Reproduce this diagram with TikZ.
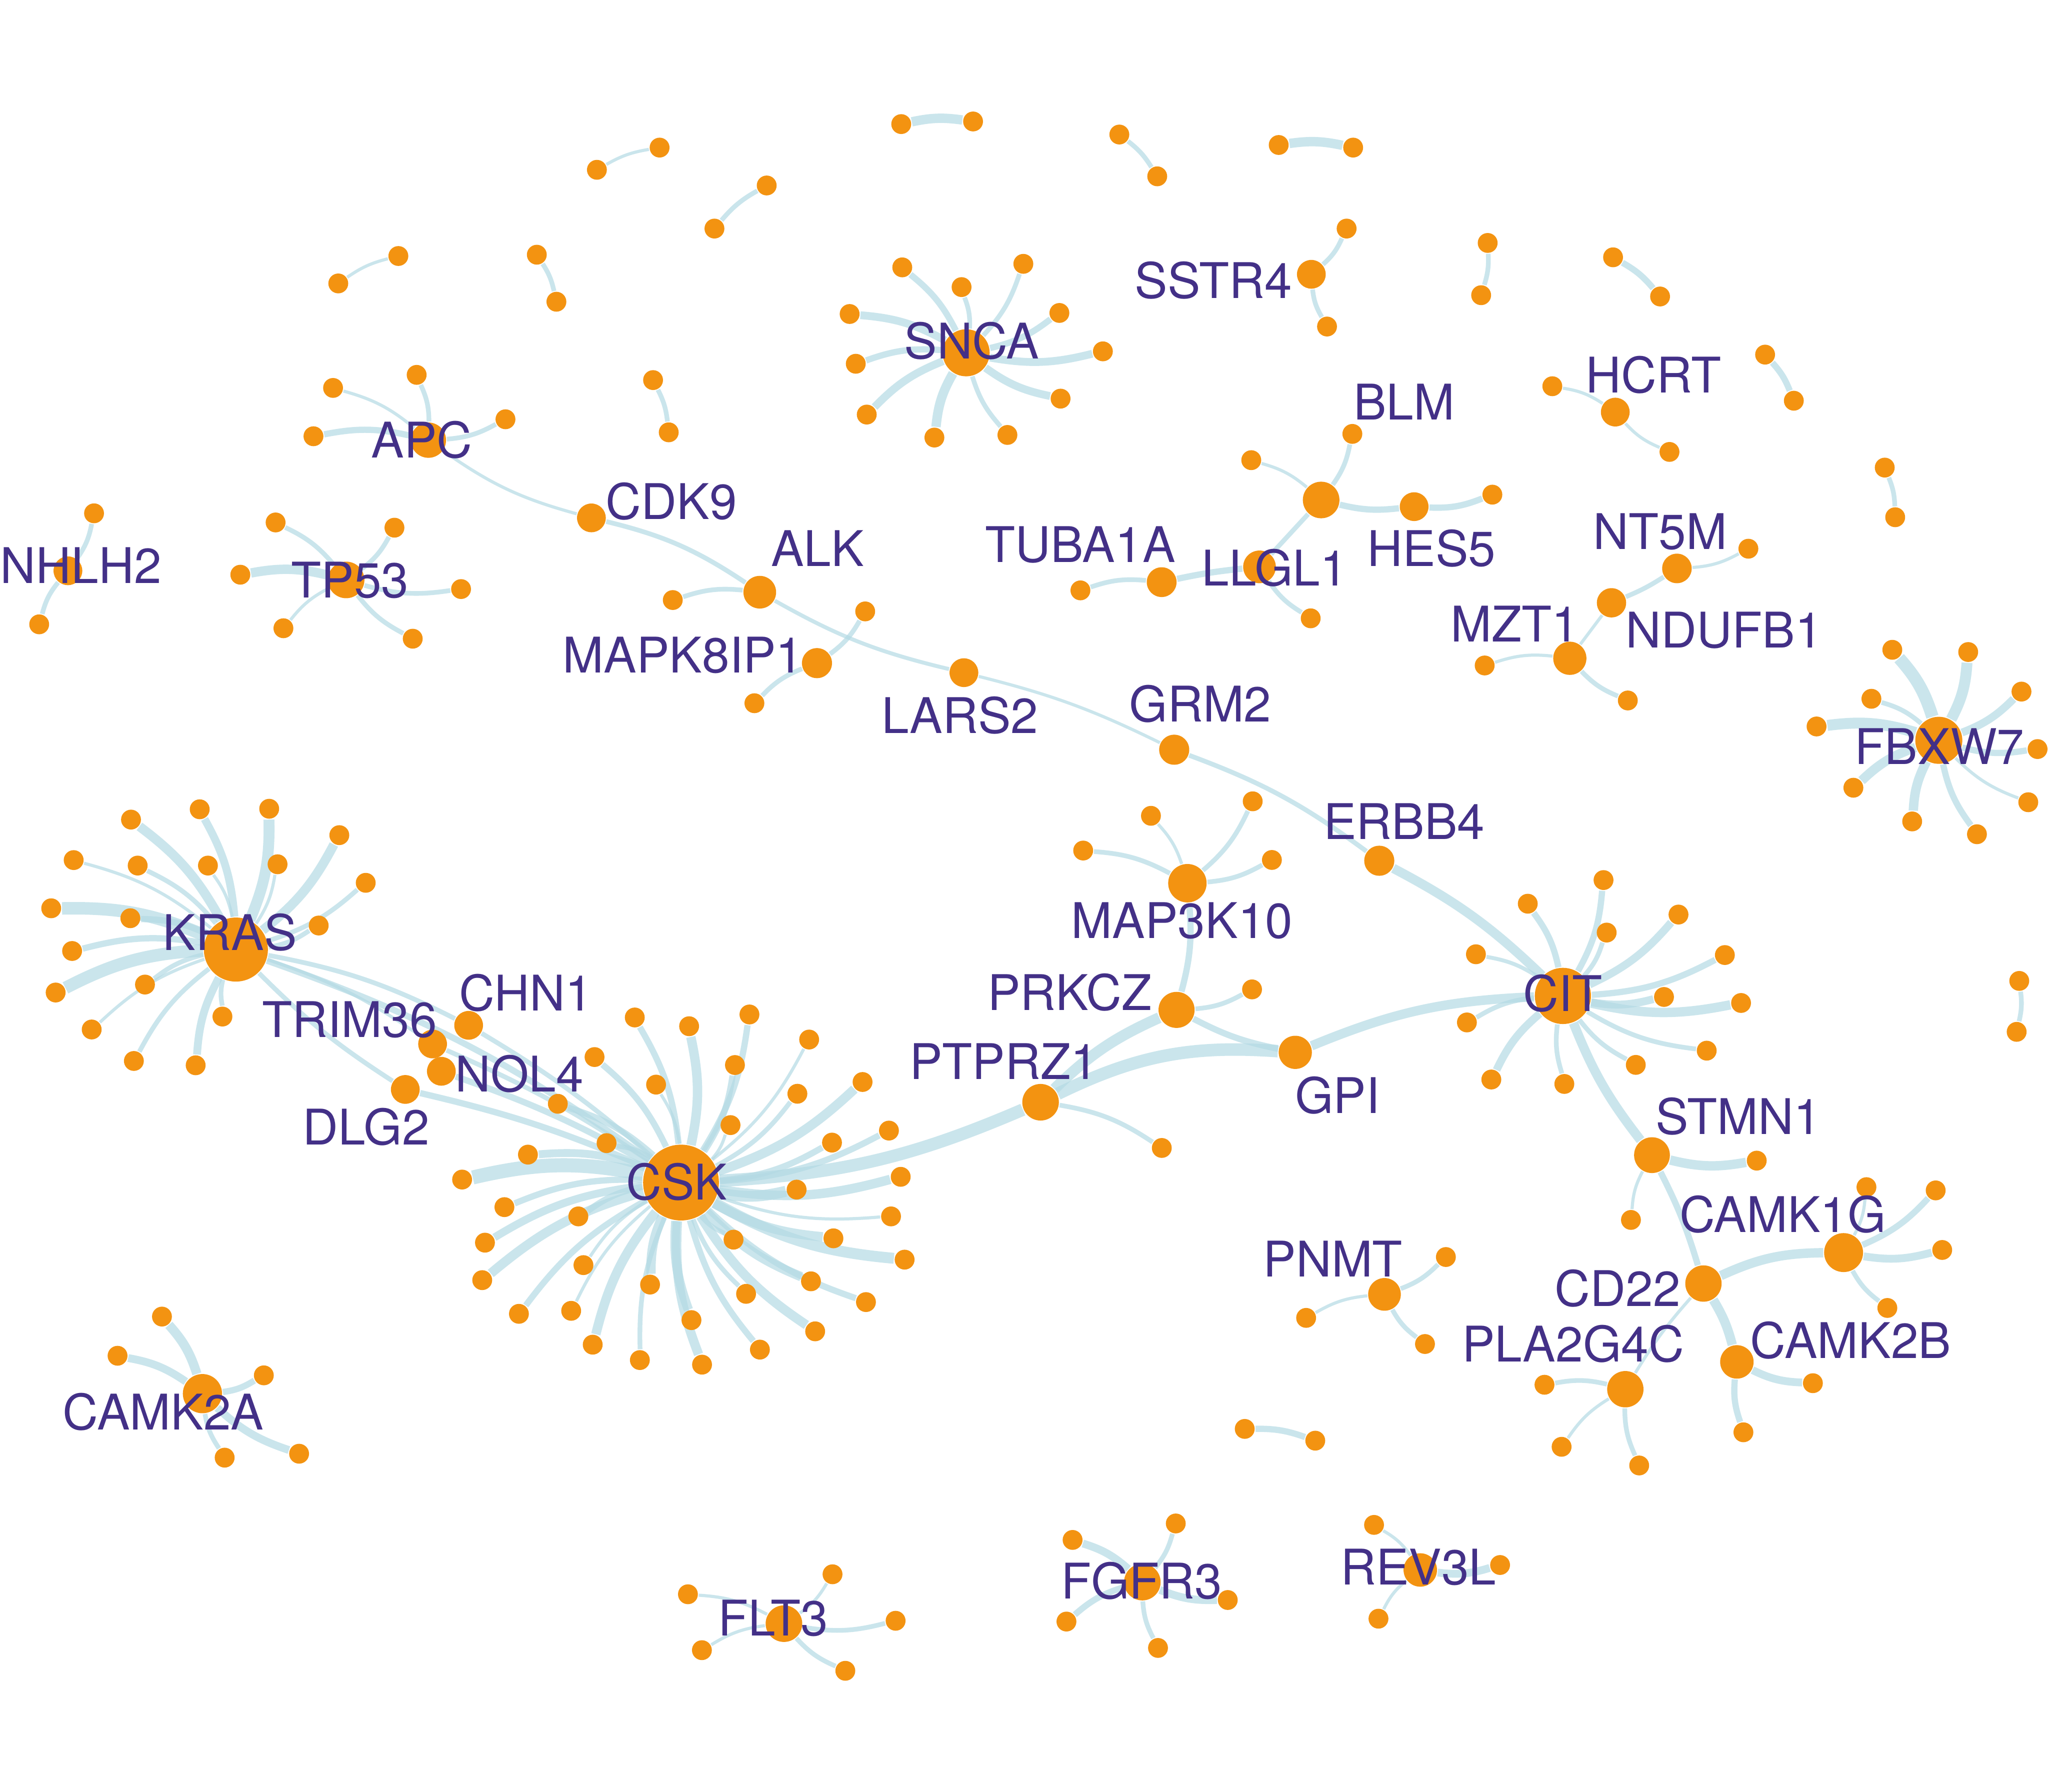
\documentclass[tikz,border=0pt]{standalone}
\usepackage{fontspec}
\setmainfont{TeX Gyre Heros}
\usetikzlibrary{calc}
\pgfdeclarelayer{back}
\pgfdeclarelayer{bg}
\pgfsetlayers{back,bg,main}
\definecolor{nodeor}{RGB}{243,147,17}
\definecolor{edgeblue}{RGB}{180,218,228}
\definecolor{labcol}{RGB}{67,48,135}
\newcommand\lblfont{\fontsize{10.7pt}{12pt}\selectfont}
\newcommand\myleaves[3]{%
  \foreach \x/\y/\w [count=\i] in {#3} {
    \node[leaf] (#1-\i) at (\x,\y) {};
    \begin{pgfonlayer}{bg}\draw[lnk=\w] (#1) to[bend right=#2] (#1-\i);\end{pgfonlayer}
  }}
\tikzset{
  nd/.style={circle, fill=nodeor, draw=none, inner sep=0pt, minimum size=#1*0.5691pt},
  leaf/.style={nd=7.6},
  lnk/.style={draw=edgeblue, draw opacity=0.7, line width=#1*0.34pt},
  lbl/.style={text=labcol, font=\lblfont, inner sep=0pt, text height=7.68pt, text depth=0pt}
}
\begin{document}
\begin{tikzpicture}[x=0.01cm, y=-0.01cm]
\useasboundingbox (0,0) rectangle (1568,1372);
\begin{pgfonlayer}{back}
\fill[white] (0,0) rectangle (1568,1372);
\end{pgfonlayer}
% hubs
\node[nd=29] (csk) at (521.4,905.4) {};
\node[nd=24.5] (kras) at (180.6,727) {};
\node[nd=21.5] (cit) at (1196.6,762.5) {};
\node[nd=18] (snca) at (739.7,270.1) {};
\node[nd=18] (fbxw7) at (1484.4,566.8) {};
\node[nd=14] (tp53) at (265,444) {};
\node[nd=13.5] (apc) at (328,337) {};
\node[nd=11] (nhlh2) at (52,437) {};
\node[nd=15] (camk2a) at (155,1067) {};
\node[nd=11] (sstr4) at (1004,210) {};
\node[nd=11] (hcrt) at (1236.7,315.5) {};
\node[nd=14.7] (map3k10) at (909.1,676.2) {};
\node[nd=13.8] (prkcz) at (900.8,773.2) {};
\node[nd=14] (ptprz1) at (796.7,843.9) {};
\node[nd=12.7] (gpi) at (991.7,805.7) {};
\node[nd=11.5] (erbb4) at (1056,659) {};
\node[nd=11.5] (grm2) at (899,574) {};
\node[nd=11] (lars2) at (738,515) {};
\node[nd=12.5] (alk) at (581.7,453.4) {};
\node[nd=11] (cdk9) at (452.8,396.5) {};
\node[nd=11.5] (mapk8ip1) at (625.5,507.7) {};
\node[nd=11.4] (tuba1a) at (889.4,445.7) {};
\node[nd=12.5] (llgl1) at (964.3,434) {};
\node[nd=14] (blm) at (1011.5,382.8) {};
\node[nd=11] (hes5) at (1082.7,387.9) {};
\node[nd=11.3] (nt5m) at (1283.9,435.2) {};
\node[nd=11.2] (ndufb1) at (1233.8,461.5) {};
\node[nd=12.7] (mzt1) at (1201.9,504) {};
\node[nd=13.7] (stmn1) at (1264.8,884.4) {};
\node[nd=13.9] (cd22) at (1304.2,982.7) {};
\node[nd=14.9] (camk1g) at (1411.5,959) {};
\node[nd=12.8] (camk2b) at (1329.8,1042.7) {};
\node[nd=13.9] (pla2g4c) at (1244.4,1063.6) {};
\node[nd=12.5] (pnmt) at (1060,991) {};
\node[nd=14] (flt3) at (600.2,1243.1) {};
\node[nd=14] (fgfr3) at (874.6,1211.3) {};
\node[nd=12.8] (rev3l) at (1087.4,1202) {};
\node[nd=11] (chn1) at (358.8,785) {};
\node[nd=11] (trim36) at (331.2,799.3) {};
\node[nd=11] (dlg2) at (310.3,834.1) {};
\node[nd=11] (nol4) at (337.9,820.2) {};
% leaves
\myleaves{csk}{12}{486/779/4, 527.6/785.7/6, 573.8/776.7/4, 619.5/795.9/2, 455.2/809.3/4, 660.4/828.4/6, 562.7/815.4/4, 502.3/830.4/2, 610.5/837.4/3, 427.1/845.1/4, 559.3/861.4/2, 680.6/865.6/4, 637/874.8/4, 464.4/875.2/3, 404.2/884/5, 353.8/903.1/9, 689.6/901/6, 609.9/910.8/7, 386.2/924.2/4, 442.8/931.3/4, 682.2/931.3/2, 638.1/948.1/6, 561.6/949.1/3, 692.6/964.4/7, 371.3/951.4/5, 446.7/968.6/2, 369.2/980.1/6, 620.9/981/6, 497.7/983.5/6, 571.2/990.6/3, 663/996.9/4, 397.3/1005.9/4, 437.3/1003.6/2, 529.4/1010.7/6, 624.1/1019.3/6, 453.8/1029.5/6, 581.8/1033.3/4, 489.9/1041.3/3, 537.5/1044.8/6}
\myleaves{kras}{12}{100.3/627.5/6, 152.9/619.6/5, 206.1/619.2/7, 259.8/639.4/6, 56.4/658.5/2, 105.4/662.7/3, 159.2/662.7/2, 212.5/661.7/2, 280/675.9/3, 39.2/695.4/8, 99.8/703/4, 244/708.6/3, 55.2/728.1/4, 111/753.8/3, 42.6/759.9/8, 170.3/778.3/3, 70.2/788.2/2, 102.5/812.3/3, 149.8/815.6/5}
\myleaves{cit}{12}{1227.7/673.8/4, 1169.7/691.9/4, 1285.1/700.2/5, 1230.1/714/3, 1320.6/731.2/4, 1130/730.6/2.5, 1274/763.3/5, 1333/767.9/6, 1123.1/782.8/3, 1306.7/804.4/3, 1252.4/815.3/3, 1141.8/826.5/5, 1197.7/829.9/3}
\myleaves{snca}{12}{690.8/204.7/4, 736.2/219.8/3, 783.5/202/3, 811.1/239.6/4, 650.5/240.4/5, 655.2/278.5/4, 844.4/269/5, 663.6/317.4/5, 715.4/335/6, 771.3/333/3, 812/305.2/5}
\myleaves{fbxw7}{12}{1448.8/497.5/8, 1506.9/499.2/7, 1432.8/535/3, 1547.7/529.5/5, 1390.8/556.2/7, 1560/573.5/4, 1419/603.1/6, 1552.9/614.2/2, 1464/628.9/6, 1513.6/638.7/4}
\myleaves{tp53}{12}{211/400/3, 302/404/3, 184/440/6, 353/451/3, 217/481/2, 316/489/3}
\myleaves{apc}{12}{255/297/2, 319/287/3, 387/321/3, 240/334/4}
\myleaves{nhlh2}{12}{72/393/3, 30/478/3}
\myleaves{camk2a}{12}{124/1008/6, 90/1038/5, 202/1053/4, 172/1116/3, 229/1113/5}
\myleaves{sstr4}{12}{1031/175/3, 1016/250/3}
\myleaves{hcrt}{12}{1188.5/295.7/2, 1278.2/346/2}
\myleaves{map3k10}{12}{829.3/651.2/3, 881.2/624.6/2, 959.1/613.5/3, 973.8/658.4/3}
\myleaves{prkcz}{12}{958.6/757.5/3}
\myleaves{ptprz1}{-12}{889.5/878.9/3}
\myleaves{alk}{12}{515.1/459.4/3}
\myleaves{mapk8ip1}{12}{662.4/468.1/3, 577.6/538.4/3}
\myleaves{tuba1a}{12}{827.2/452/3}
\myleaves{llgl1}{12}{1003.5/473.4/3}
\myleaves{blm}{12}{1035.4/332.2/3, 958/352.3/2}
\myleaves{hes5}{12}{1142.6/378.7/4}
\myleaves{nt5m}{12}{1338.6/420.1/2}
\myleaves{mzt1}{12}{1136.7/509.5/2, 1246.3/536.3/3}
\myleaves{stmn1}{12}{1345/888.6/6, 1248.7/934/2}
\myleaves{camk1g}{12}{1429/908.9/2, 1482/911.4/4, 1487/957/5, 1445/1001.4/3}
\myleaves{camk2b}{12}{1388/1059/5, 1334.8/1096.6/4}
\myleaves{pla2g4c}{12}{1182.5/1060.2/3, 1195.6/1107.7/2, 1255/1122/3}
\myleaves{pnmt}{12}{1107/962.4/3, 1000/1009/2, 1091/1029/3}
\myleaves{flt3}{12}{526.7/1220.6/2, 637.4/1205.3/2, 685.7/1240.9/3, 537.4/1263.4/2, 647.2/1279.2/3}
\myleaves{fgfr3}{12}{821.2/1179/5, 900.2/1166.4/3, 940/1225/5, 816.5/1241.5/4, 886.6/1261.7/3}
\myleaves{rev3l}{12}{1052/1167.5/2, 1148.5/1198.2/5, 1055.4/1239.3/2}
% isolated pairs
\foreach \ax/\ay/\bx/\by/\w [count=\i] in {690/95/745/93/6, 457/130/505/113/2, 547/175/587/142/3, 857/103/886/135/3, 979/111/1036/113/6, 259/217/305/196/2, 411/195/426/231/3, 500/291/512/331/3, 1139/186/1134/226/3, 1235/197/1271/227/4, 1351.4/271.5/1373.4/306.8/4, 1443/358/1451/396/3, 1546/751/1544/790/3, 953/1094/1007/1103/4} {
  \node[leaf] (pa\i) at (\ax,\ay) {};
  \node[leaf] (pb\i) at (\bx,\by) {};
  \begin{pgfonlayer}{bg}\draw[lnk=\w] (pa\i) to[bend left=10] (pb\i);\end{pgfonlayer}
}
% hub to hub links
\begin{pgfonlayer}{bg}
\draw[lnk=2] (apc) to[bend right=10] (cdk9);
\draw[lnk=3] (cdk9) to[bend left=10] (alk);
\draw[lnk=2.5] (alk) to[bend right=8] (lars2);
\draw[lnk=2] (lars2) to[bend left=6] (grm2);
\draw[lnk=3] (grm2) to[bend left=8] (erbb4);
\draw[lnk=6] (erbb4) to[bend left=8] (cit);
\draw[lnk=6] (cit) to[bend right=8] (stmn1);
\draw[lnk=4] (stmn1) to[bend left=5] (cd22);
\draw[lnk=6] (cd22) to[bend left=12] (camk1g);
\draw[lnk=6] (cd22) to[bend left=8] (camk2b);
\draw[lnk=2] (cd22) to[bend right=5] (pla2g4c);
\draw[lnk=6] (gpi) to[bend left=10] (cit);
\draw[lnk=8] (ptprz1) to[bend left=15] (gpi);
\draw[lnk=7] (ptprz1) to[bend left=10] (prkcz);
\draw[lnk=4] (prkcz) to[bend right=8] (gpi);
\draw[lnk=4] (map3k10) to[bend left=10] (prkcz);
\draw[lnk=8] (csk) to[bend right=10] (ptprz1);
\draw[lnk=4] (tuba1a) to[bend left=3] (llgl1);
\draw[lnk=3] (llgl1) -- (blm);
\draw[lnk=4] (blm) to[bend right=10] (hes5);
\draw[lnk=3] (nt5m) to[bend left=5] (ndufb1);
\draw[lnk=2] (ndufb1) -- (mzt1);
\draw[lnk=4] (kras) to[bend left=8] (csk);
\draw[lnk=3] (kras) to[bend left=8] (chn1);
\draw[lnk=2] (kras) to[bend left=8] (trim36);
\draw[lnk=3] (kras) to[bend right=6] (dlg2);
\draw[lnk=3] (chn1) to[bend left=5] (csk);
\draw[lnk=3] (trim36) to[bend left=5] (csk);
\draw[lnk=4] (nol4) to[bend left=5] (csk);
\draw[lnk=4] (dlg2) to[bend left=5] (csk);
\end{pgfonlayer}
% labels
\node[lbl] (t-sstr4) at (929,215) {SSTR4};
\node[lbl] (t-snca) at (744,261) {SNCA};
\node[lbl] (t-apc) at (323,337) {APC};
\node[lbl] (t-cdk9) at (514,384) {CDK9};
\node[lbl] (t-alk) at (626,420) {ALK};
\node[lbl] (t-mapk8ip1) at (523,501.5) {MAPK8IP1};
\node[lbl] (t-lars2) at (735,548) {LARS2};
\node[lbl] (t-grm2) at (919,539) {GRM2};
\node[lbl] (t-erbb4) at (1075,629) {ERBB4};
\node[lbl] (t-tuba1a) at (827,417) {TUBA1A};
\node[lbl] (t-llgl1) at (976,435) {LLGL1};
\node[lbl] (t-blm) at (1075,308) {BLM};
\node[lbl] (t-hes5) at (1096,420) {HES5};
\node[lbl] (t-hcrt) at (1266,287) {HCRT};
\node[lbl] (t-nt5m) at (1271,407) {NT5M};
\node[lbl] (t-mzt1) at (1160,478) {MZT1};
\node[lbl] (t-ndufb1) at (1320,482.5) {NDUFB1};
\node[lbl] (t-fbxw7) at (1485,571.5) {FBXW7};
\node[lbl] (t-nhlh2) at (62,433) {NHLH2};
\node[lbl] (t-tp53) at (268,444) {TP53};
\node[lbl] (t-kras) at (176,714) {KRAS};
\node[lbl] (t-trim36) at (267.7,780.8) {TRIM36};
\node[lbl] (t-chn1) at (402.6,760.2) {CHN1};
\node[lbl] (t-nol4) at (397.6,822.2) {NOL4};
\node[lbl] (t-dlg2) at (280.3,863) {DLG2};
\node[lbl] (t-csk) at (518,905) {CSK};
\node[lbl] (t-ptprz1) at (768.5,812.6) {PTPRZ1};
\node[lbl] (t-prkcz) at (819,760) {PRKCZ};
\node[lbl] (t-map3k10) at (905,705) {MAP3K10};
\node[lbl] (t-gpi) at (1024,838.7) {GPI};
\node[lbl] (t-cit) at (1196.5,760.7) {CIT};
\node[lbl] (t-stmn1) at (1331,855) {STMN1};
\node[lbl] (t-camk1g) at (1365,930) {CAMK1G};
\node[lbl] (t-cd22) at (1238.5,986.5) {CD22};
\node[lbl] (t-pla2g4c) at (1204.4,1029) {PLA2G4C};
\node[lbl] (t-camk2b) at (1417,1026.4) {CAMK2B};
\node[lbl] (t-pnmt) at (1020.5,964) {PNMT};
\node[lbl] (t-camk2a) at (125,1081) {CAMK2A};
\node[lbl] (t-flt3) at (592,1239) {FLT3};
\node[lbl] (t-fgfr3) at (874,1210.5) {FGFR3};
\node[lbl] (t-rev3l) at (1086,1200) {REV3L};
\end{tikzpicture}
\end{document}
